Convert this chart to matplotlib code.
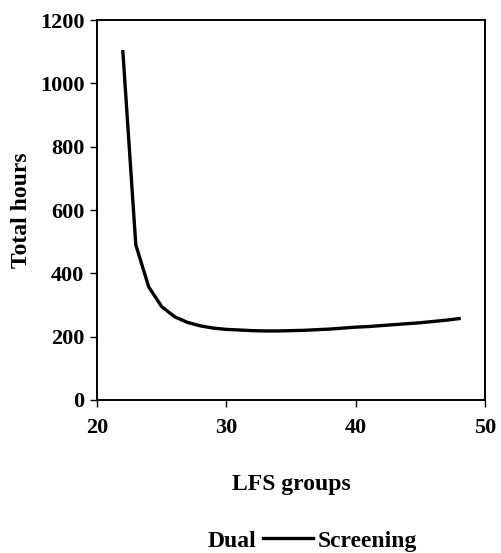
import numpy as np
from matplotlib import pyplot as plt
from matplotlib.lines import Line2D

plt.rcParams['font.family'] = ['Liberation Serif', 'DejaVu Serif']
plt.rcParams['font.weight'] = 'bold'

# LFS groups y horas totales
lfs = [22, 23, 24, 25, 26, 27, 28, 29, 30, 31, 32, 33, 34, 35, 36, 37,
       38, 39, 40, 41, 42, 43, 44, 45, 46, 47, 48]
horas = [1100, 490, 357, 295, 263, 245, 234, 227, 223, 221, 219, 218, 218,
         219, 220, 222, 224, 227, 230, 232, 235, 238, 241, 244, 248, 252, 257]

xticks = [20, 30, 40, 50]
yticks = [0, 200, 400, 600, 800, 1000, 1200]

fig = plt.figure(figsize=(5.01, 5.53), dpi=100)
ax = fig.add_axes([0.1936, 0.2767, 0.7744, 0.6871])

ax.plot(lfs, horas, color='black', linewidth=2.4)

ax.set_xlim(20, 50)
ax.set_ylim(0, 1200)
ax.set_xticks(xticks)
ax.set_yticks(yticks)
ax.tick_params(axis='both', labelsize=16, direction='out', length=5, width=1)
ax.tick_params(axis='x', pad=8)
ax.tick_params(axis='y', pad=4)
for s in ax.spines.values():
    s.set_linewidth(1.4)

ax.set_xlabel('LFS groups', fontsize=17, fontweight='bold', labelpad=26)
ax.set_ylabel('Total hours', fontsize=17, fontweight='bold', labelpad=6)

#Leyenda: la serie "Dual" no se ve, solo "Screening"
handles = [Line2D([], [], color='none'), Line2D([], [], color='black', linewidth=2.4)]
fig.legend(handles, ['Dual', 'Screening'], loc='center', bbox_to_anchor=(0.569, 0.022),
           ncol=2, frameon=False, fontsize=17, handlelength=2.1,
           handletextpad=0.2, columnspacing=0.3)

plt.savefig('out.png', dpi=100)
